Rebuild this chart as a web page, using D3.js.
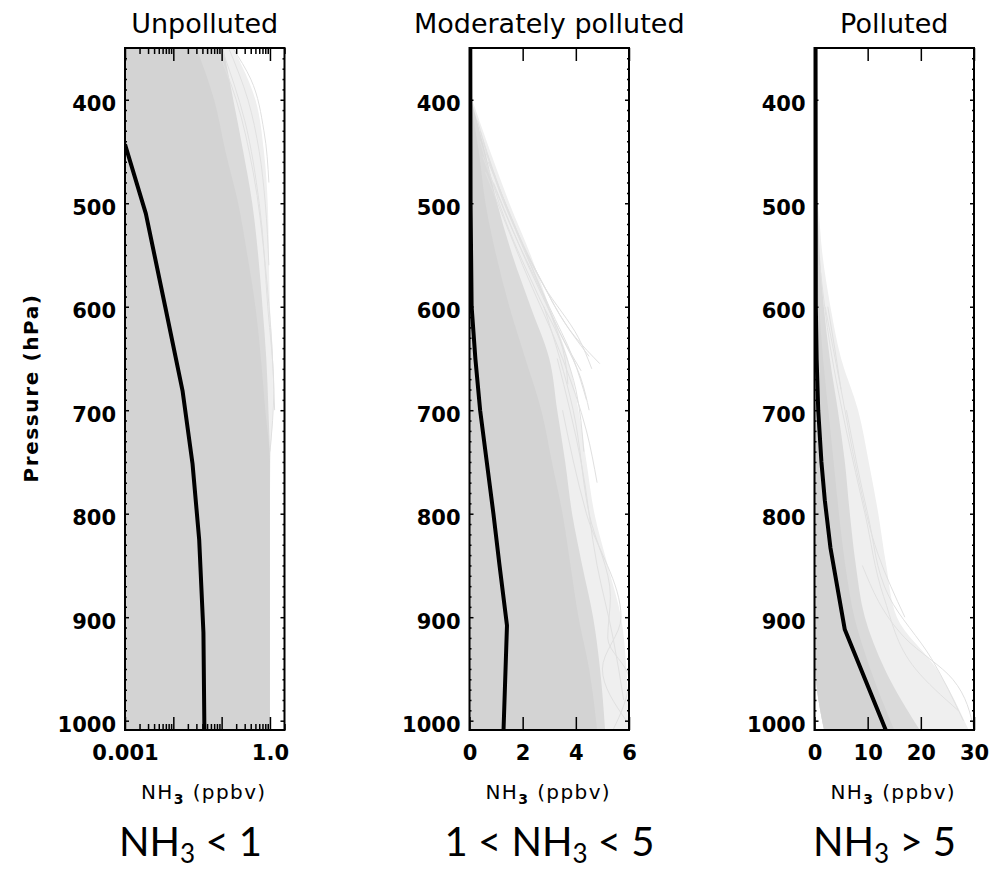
<!DOCTYPE html>
<html><head><meta charset="utf-8">
<script src="https://cdn.jsdelivr.net/npm/d3@7"></script>
<style>body{margin:0;background:#fff}svg{display:block}</style>
</head><body>
<svg id="chart" width="1005" height="871"></svg>
<script>
// ---------------- DATA ----------------
const panelTitles = ["Unpolluted", "Moderately polluted", "Polluted"];
const regimePrefix = ["", "1 < ", ""];
const regimeSuffix = [" < 1", " < 5", " > 5"];
const xDomains = [[0.001, 2.0], [0, 6], [0, 30]];
const xMajorTicks = [[0.001, 0.01, 0.1, 1.0], [0, 2, 4, 6], [0, 10, 20, 30]];
const xTickLabels = [["0.001", "", "", "1.0"], ["0", "2", "4", "6"], ["0", "10", "20", "30"]];
const pressureDomain = [350, 1009];
const pressureTicks = [400, 500, 600, 700, 800, 900, 1000];

// mean profiles (pressure hPa, NH3 ppbv)
const meanP1 = [443, 510, 600, 681, 752, 825, 915, 1009];
const meanV1 = [0.001, 0.0027, 0.0068, 0.0155, 0.025, 0.0343, 0.042, 0.044];
const meanP2 = [350, 500, 600, 650, 700, 750, 800, 850, 908, 1009];
const meanV2 = [0.03, 0.04, 0.08, 0.22, 0.4, 0.65, 0.9, 1.13, 1.41, 1.28];
const meanP3 = [350, 600, 650, 700, 750, 787, 833, 912, 1009];
const meanV3 = [0.2, 0.25, 0.4, 0.7, 1.3, 1.94, 3.0, 5.7, 13.4];

// envelopes of the individual profiles (lower edge, dense core, dense lines, sparse lines)
const envP1 = [350, 400, 450, 500, 550, 600, 650, 700, 750, 800, 900, 1009];
const envLow1 = [0.001, 0.001, 0.001, 0.001, 0.001, 0.001, 0.001, 0.001, 0.001, 0.001, 0.001, 0.001];
const envCore1 = [0.03, 0.07, 0.12, 0.22, 0.34, 0.5, 0.65, 0.8, 1.0, 1.0, 1.0, 1.0];
const envDense1 = [0.108, 0.174, 0.28, 0.43, 0.57, 0.70, 0.84, 0.93, 1.0, 1.0, 1.0, 1.0];
const envSparse1 = [0.174, 0.5, 0.75, 0.9, 0.95, 1.0, 1.15, 1.15, 1.02, 1.0, 1.0, 1.0];

const envP2 = [400, 450, 500, 550, 600, 650, 700, 750, 800, 850, 900, 950, 1009];
const envLow2 = [0, 0, 0, 0, 0, 0, 0, 0, 0, 0, 0, 0, 0];
const envCore2 = [0.02, 0.35, 0.6, 1.0, 1.5, 2.1, 2.7, 3.1, 3.5, 3.8, 4.1, 4.5, 4.8];
const envDense2 = [0.06, 0.59, 1.04, 1.61, 2.3, 3.0, 3.3, 3.6, 3.86, 4.24, 4.65, 4.91, 5.1];
const envSparse2 = [0.1, 0.78, 1.5, 2.3, 3.0, 3.7, 4.1, 4.4, 4.7, 5.2, 5.7, 5.9, 5.98];

const envP3 = [480, 500, 550, 600, 650, 700, 750, 800, 850, 900, 950, 1009];
const envLow3 = [0, 0, 0, 0, 0, 0, 0, 0, 0, 0, 0.15, 1.8];
const envCore3 = [0, 0.06, 0.43, 0.9, 1.6, 2.6, 3.6, 4.6, 5.8, 7.5, 10.5, 15];
const envDense3 = [0, 0.43, 1.0, 1.75, 2.88, 4.39, 5.71, 6.65, 7.78, 9.47, 13.2, 19.8];
const envSparse3 = [0, 0.6, 1.5, 3.0, 5.0, 8.2, 10.2, 12.0, 13.5, 15.5, 23, 29];

// a few individual outlying profiles
const outliersP1 = [[350, 400, 450, 500, 560], [350, 420, 500, 600, 680, 740], [350, 400, 470, 560, 640, 700], [350, 380, 430, 480]];
const outliersV1 = [[0.14, 0.35, 0.6, 0.8, 0.95], [0.1, 0.3, 0.6, 0.9, 1.2, 1.0], [0.08, 0.2, 0.45, 0.8, 1.1, 1.25], [0.17, 0.4, 0.75, 0.95]];
const outliersP2 = [[420, 500, 570, 630, 655], [440, 520, 590, 640, 675], [470, 560, 650, 720, 770], [600, 700, 800, 880, 920, 960, 1009], [700, 800, 900, 950, 1000],
  [450, 530, 600, 650, 690], [430, 510, 580, 630, 660], [480, 560, 620, 670, 700], [460, 540, 610, 680, 740], [650, 750, 850, 920, 980],
  [440, 510, 570, 620, 648], [455, 525, 585, 635, 662]];
const outliersV2 = [[0.3, 1.3, 2.6, 4.0, 4.9], [0.4, 1.4, 2.6, 3.5, 3.7], [0.6, 2.0, 3.5, 4.4, 4.8], [2.8, 3.9, 4.5, 5.3, 5.2, 6.0, 5.4], [3.5, 4.4, 5.7, 5.0, 5.9],
  [0.6, 1.8, 3.0, 3.9, 4.4], [0.4, 1.5, 2.8, 4.1, 4.6], [0.9, 2.2, 3.3, 4.2, 4.5], [0.7, 2.0, 3.1, 4.0, 4.3], [3.3, 4.2, 4.8, 5.4, 5.8],
  [0.5, 1.5, 2.6, 3.7, 4.5], [0.5, 1.6, 2.7, 3.6, 4.2]];
const outliersP3 = [[560, 640, 720, 800, 880, 950, 990], [600, 680, 760, 840, 900], [700, 800, 880, 940, 1000], [850, 920, 960, 1009], [600, 640, 680]];
const outliersV3 = [[1.0, 3.0, 6.0, 9.5, 13, 19, 27], [2.0, 5.0, 8.0, 12.0, 17.0], [6, 10, 14, 22, 28], [9, 17, 26, 30], [2.5, 3.8, 5.0]];

// ---------------- LAYOUT ----------------
const panelLeft = [125, 469.5, 814.5];
const panelW = 159.5;
const plotTop = 48, plotBottom = 730;
const regimeX = [119, 444.5, 813];
const tickFont = "DejaVu Sans";

const svg = d3.select("#chart");
const y = d3.scaleLinear().domain(pressureDomain).range([plotTop, plotBottom]);

const panels = [
  {meanP: meanP1, meanV: meanV1, envP: envP1, low: envLow1, core: envCore1, dense: envDense1, sparse: envSparse1, oP: outliersP1, oV: outliersV1, log: true},
  {meanP: meanP2, meanV: meanV2, envP: envP2, low: envLow2, core: envCore2, dense: envDense2, sparse: envSparse2, oP: outliersP2, oV: outliersV2, log: false},
  {meanP: meanP3, meanV: meanV3, envP: envP3, low: envLow3, core: envCore3, dense: envDense3, sparse: envSparse3, oP: outliersP3, oV: outliersV3, log: false}
];

panels.forEach((pn, i) => {
  const L = panelLeft[i], R = L + panelW;
  const x = (pn.log ? d3.scaleLog() : d3.scaleLinear()).domain(xDomains[i]).range([L, R]);
  const g = svg.append("g");
  const clipId = "clip" + i;
  svg.append("clipPath").attr("id", clipId).append("rect")
    .attr("x", L).attr("y", plotTop).attr("width", panelW).attr("height", plotBottom - plotTop);
  const data = g.append("g").attr("clip-path", `url(#${clipId})`);

  const env = pn.envP.map((p, k) => ({p, lo: pn.low[k], core: pn.core[k], dense: pn.dense[k], sparse: pn.sparse[k]}));
  const areaFor = key => d3.area().curve(d3.curveMonotoneY)
    .y(d => y(d.p)).x0(d => x(d.lo)).x1(d => x(d[key]));
  data.append("path").datum(env).attr("d", areaFor("sparse")).attr("fill", "#efefef");
  data.append("path").datum(env).attr("d", areaFor("dense")).attr("fill", "#dadada");
  (pn.oP).forEach((ps, k) => {
    const pts = ps.map((p, j) => ({p, v: pn.oV[k][j]}));
    data.append("path").datum(pts)
      .attr("d", d3.line().curve(d3.curveMonotoneY).y(d => y(d.p)).x(d => x(d.v)))
      .attr("fill", "none").attr("stroke", "#e0e0e0").attr("stroke-width", 1);
  });
  data.append("path").datum(env).attr("d", areaFor("core")).attr("fill", "#d3d3d3");

  const mean = pn.meanP.map((p, k) => ({p, v: pn.meanV[k]}));
  data.append("path").datum(mean)
    .attr("d", d3.line().curve(d3.curveLinear).y(d => y(d.p)).x(d => x(d.v)))
    .attr("fill", "none").attr("stroke", "#000").attr("stroke-width", 4).attr("stroke-linejoin", "round");

  // y axes (left labeled, right unlabeled), minor every 10 hPa
  const minorP = d3.range(360, 1009, 10).filter(p => p % 100 !== 0);
  const yLeft = g.append("g").attr("transform", `translate(${L},0)`)
    .call(d3.axisLeft(y).tickValues(pressureTicks).tickSizeInner(-4).tickSizeOuter(0).tickPadding(9).tickFormat(d3.format("d")));
  yLeft.selectAll("text").attr("dy", "0.52em");
  g.append("g").attr("transform", `translate(${L},0)`)
    .call(d3.axisLeft(y).tickValues(minorP).tickSizeInner(-2).tickSizeOuter(0).tickFormat(""));
  g.append("g").attr("transform", `translate(${R},0)`)
    .call(d3.axisRight(y).tickValues(pressureTicks).tickSizeInner(-4).tickSizeOuter(0).tickFormat(""));
  g.append("g").attr("transform", `translate(${R},0)`)
    .call(d3.axisRight(y).tickValues(minorP).tickSizeInner(-2).tickSizeOuter(0).tickFormat(""));

  // x axes
  const fmt = (d, k) => xTickLabels[i][k];
  g.append("g").attr("transform", `translate(0,${plotBottom})`)
    .call(d3.axisBottom(x).tickValues(xMajorTicks[i]).tickSizeInner(-13).tickSizeOuter(0).tickPadding(15).tickFormat(fmt));
  g.append("g").attr("transform", `translate(0,${plotTop})`)
    .call(d3.axisTop(x).tickValues(xMajorTicks[i]).tickSizeInner(-13).tickSizeOuter(0).tickFormat(""));
  if (pn.log) {
    const minorX = [];
    [0.001, 0.01, 0.1, 1].forEach(dec => d3.range(2, 10).forEach(m => { if (dec * m <= xDomains[i][1] + 1e-9) minorX.push(dec * m); }));
    g.append("g").attr("transform", `translate(0,${plotBottom})`)
      .call(d3.axisBottom(x).tickValues(minorX).tickSizeInner(-6).tickSizeOuter(0).tickFormat(""));
    g.append("g").attr("transform", `translate(0,${plotTop})`)
      .call(d3.axisTop(x).tickValues(minorX).tickSizeInner(-6).tickSizeOuter(0).tickFormat(""));
  }
  g.selectAll(".domain").remove();
  g.selectAll(".tick line").attr("stroke", "#000").attr("stroke-width", 1.5);
  g.selectAll(".tick text").attr("font-family", tickFont).attr("font-weight", "bold")
    .attr("font-size", 21).attr("fill", "#000");

  // frame
  g.append("rect").attr("x", L).attr("y", plotTop).attr("width", panelW).attr("height", plotBottom - plotTop)
    .attr("fill", "none").attr("stroke", "#000").attr("stroke-width", 2);

  // title
  svg.append("text").attr("x", L + panelW / 2).attr("y", 33).attr("text-anchor", "middle")
    .attr("font-family", tickFont).attr("font-size", 27).attr("fill", "#000").text(panelTitles[i]);

  // x axis title NH3 (ppbv)
  const xt = svg.append("text").attr("x", L + panelW / 2 - 1).attr("y", 799).attr("text-anchor", "middle")
    .attr("font-family", tickFont).attr("font-size", 20).attr("letter-spacing", 1.4).attr("fill", "#000");
  xt.append("tspan").text("NH");
  xt.append("tspan").attr("font-size", 14).attr("dy", 5).attr("font-weight", "bold").text("3");
  xt.append("tspan").attr("dy", -5).text(" (ppbv)");

  // regime label
  const rl = svg.append("text").attr("x", regimeX[i]).attr("y", 856)
    .attr("font-family", "Lato, 'Open Sans', sans-serif").attr("font-size", 40).attr("fill", "#000");
  rl.append("tspan").text(regimePrefix[i] + "NH");
  rl.append("tspan").attr("font-size", 26).attr("dy", 7).text("3");
  rl.append("tspan").attr("dy", -7).text(regimeSuffix[i]);
});

// y axis title
svg.append("text").attr("transform", "translate(38,388) rotate(-90)").attr("text-anchor", "middle")
  .attr("font-family", tickFont).attr("font-weight", "bold").attr("font-size", 20).attr("letter-spacing", 1.6)
  .attr("fill", "#000").text("Pressure (hPa)");
</script>
</body></html>
